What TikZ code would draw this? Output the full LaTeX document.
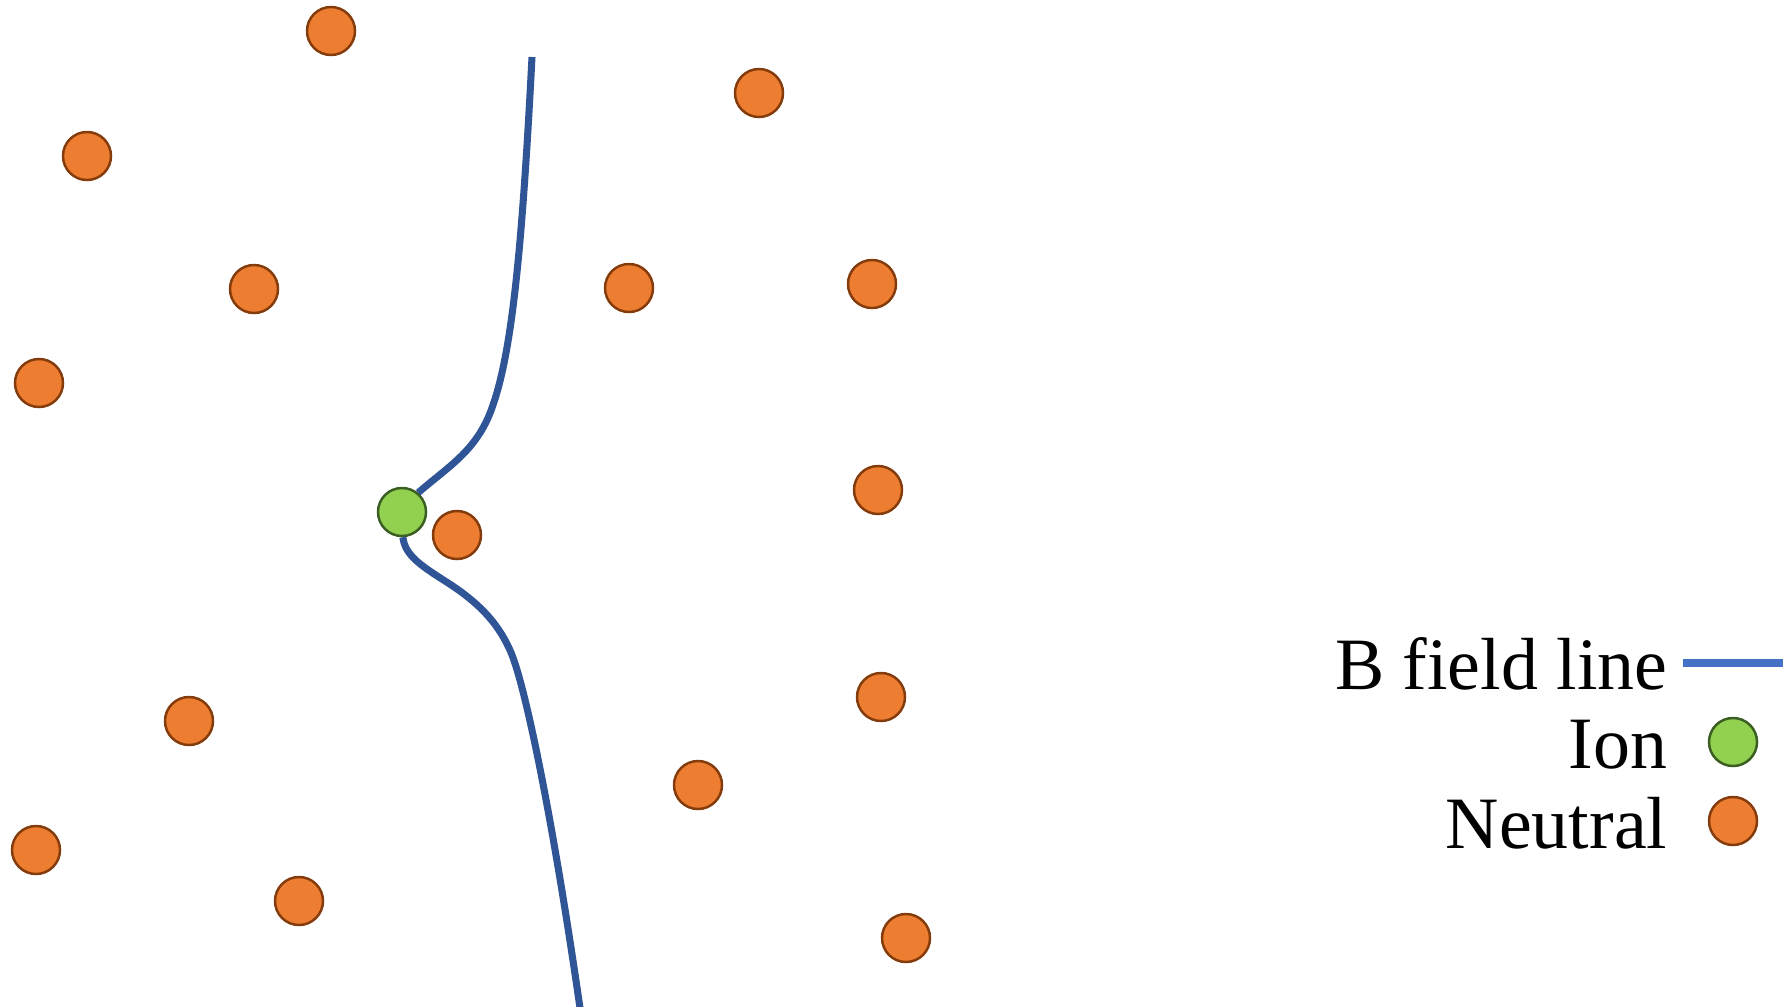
\documentclass[tikz,border=0pt]{standalone}
\usepackage{fontspec}
\setmainfont{Liberation Serif}
\usepackage{tikz}
\usetikzlibrary{positioning}
\definecolor{ionfill}{HTML}{92D050}
\definecolor{iondraw}{HTML}{3B5E22}
\definecolor{neufill}{HTML}{ED7D31}
\definecolor{neudraw}{HTML}{843C0C}
\definecolor{fieldline}{HTML}{2F5597}
\definecolor{keyline}{HTML}{4472C4}

\begin{document}
\begin{tikzpicture}[x=0.01cm, y=-0.01cm,
  neutral/.style={circle, draw=neudraw, fill=neufill, line width=0.7pt,
                  minimum size=4.8mm, inner sep=0pt},
  ion/.style={circle, draw=iondraw, fill=ionfill, line width=0.7pt,
              minimum size=4.8mm, inner sep=0pt},
  bline/.style={line width=2pt, draw=fieldline},
  keytext/.style={anchor=base east, inner sep=0pt, font=\fontsize{21}{25}\selectfont}
]
  \useasboundingbox (0,0) rectangle (1788,1006);

  % neutrals
  \node[neutral] (n1)  at (331,31)  {};
  \node[neutral] (n2)  at (87,156)  {};
  \node[neutral] (n3)  at (254,289) {};
  \node[neutral] (n4)  at (39,383)  {};
  \node[neutral] (n5)  at (759,93)  {};
  \node[neutral] (n6)  at (629,288) {};
  \node[neutral] (n7)  at (872,284) {};
  \node[neutral] (n8)  at (878,490) {};
  \node[neutral] (n9)  at (881,697) {};
  \node[neutral] (n10) at (698,785) {};
  \node[neutral] (n11) at (906,938) {};
  \node[neutral] (n12) at (189,721) {};
  \node[neutral] (n13) at (36,850)  {};
  \node[neutral] (n14) at (299,901) {};
  \node[neutral] (n15) at (457,535) {};

  % ion on the field line
  \node[ion] (ion) at (402,512) {};
  \coordinate (ftop) at (532,57);
  \coordinate (fbot) at (580,1008);
  \draw[bline] (ftop) .. controls (522,250) and (512,350) .. (493,405)
                      .. controls (478,450) and (450,465) .. (ion.50);
  \draw[bline] (ion.-88) .. controls (405,555) and (420,565) .. (445,581)
                         .. controls (480,603) and (500,625) .. (512,655)
                         .. controls (524,685) and (550,800) .. (fbot);

  % key
  \node[keytext] (kfield) at (1668,689) {B field line};
  \node[keytext] (kion)   at (1668,768) {Ion};
  \node[keytext] (kneu)   at (1668,848) {Neutral};
  \coordinate (kl1) at (1683,663);
  \coordinate (kl2) at (1783,663);
  \draw[line width=2pt, draw=keyline] (kl1) -- (kl2);
  \node[ion]     (kionc) at (1733,742) {};
  \node[neutral] (kneuc) at (1733,821) {};
\end{tikzpicture}
\end{document}
